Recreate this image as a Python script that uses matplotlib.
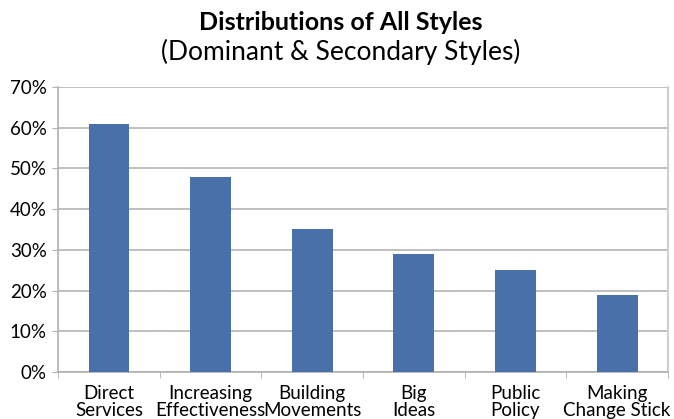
import matplotlib
matplotlib.use("Agg")
import matplotlib.pyplot as plt
import numpy as np

categories = ["Direct\nServices", "Increasing\nEffectiveness", "Building\nMovements",
              "Big\nIdeas", "Public\nPolicy", "Making\nChange Stick"]
values = [61, 48, 35, 29, 25, 19]
yticks = [0, 10, 20, 30, 40, 50, 60, 70]

plt.rcParams["font.family"] = ["Lato", "DejaVu Sans"]

fig = plt.figure(figsize=(6.74, 4.19), dpi=100)
ax = fig.add_axes([58 / 674, 1 - 372 / 419, 610 / 674, 285 / 419])

x = np.arange(len(categories))
ax.bar(x, values, width=0.4, color="#4A70A9", zorder=3)

ax.set_xlim(-0.5, len(categories) - 0.5)
ax.set_ylim(0, 70)
ax.set_yticks(yticks)
ax.set_yticklabels([f"{v}%" for v in yticks], fontsize=13.5)
ax.set_xticks(x)
ax.set_xticklabels(categories, fontsize=13.5, linespacing=1.0)
ax.set_xticks(np.arange(len(categories) + 1) - 0.5, minor=True)
ax.tick_params(axis="x", which="major", length=0, pad=9)
ax.tick_params(axis="x", which="minor", length=4, color="#b0b0b0")
ax.tick_params(axis="y", length=4, color="#b0b0b0", pad=4)

ax.grid(axis="y", color="#b4b4b4", linewidth=1.2, zorder=0)
ax.set_axisbelow(True)
for side in ["left", "bottom"]:
    ax.spines[side].set_color("#b0b0b0")
    ax.spines[side].set_linewidth(1.2)
ax.spines["right"].set_color("#d0d0d0")
ax.spines["right"].set_linewidth(1.5)
ax.spines["top"].set_visible(False)

fig.text(0.505, 1 - 22 / 419, "Distributions of All Styles", ha="center", va="center",
         fontsize=18, fontweight="bold")
fig.text(0.505, 1 - 52 / 419, "(Dominant & Secondary Styles)", ha="center", va="center",
         fontsize=19)

fig.savefig("out.png", dpi=100)
